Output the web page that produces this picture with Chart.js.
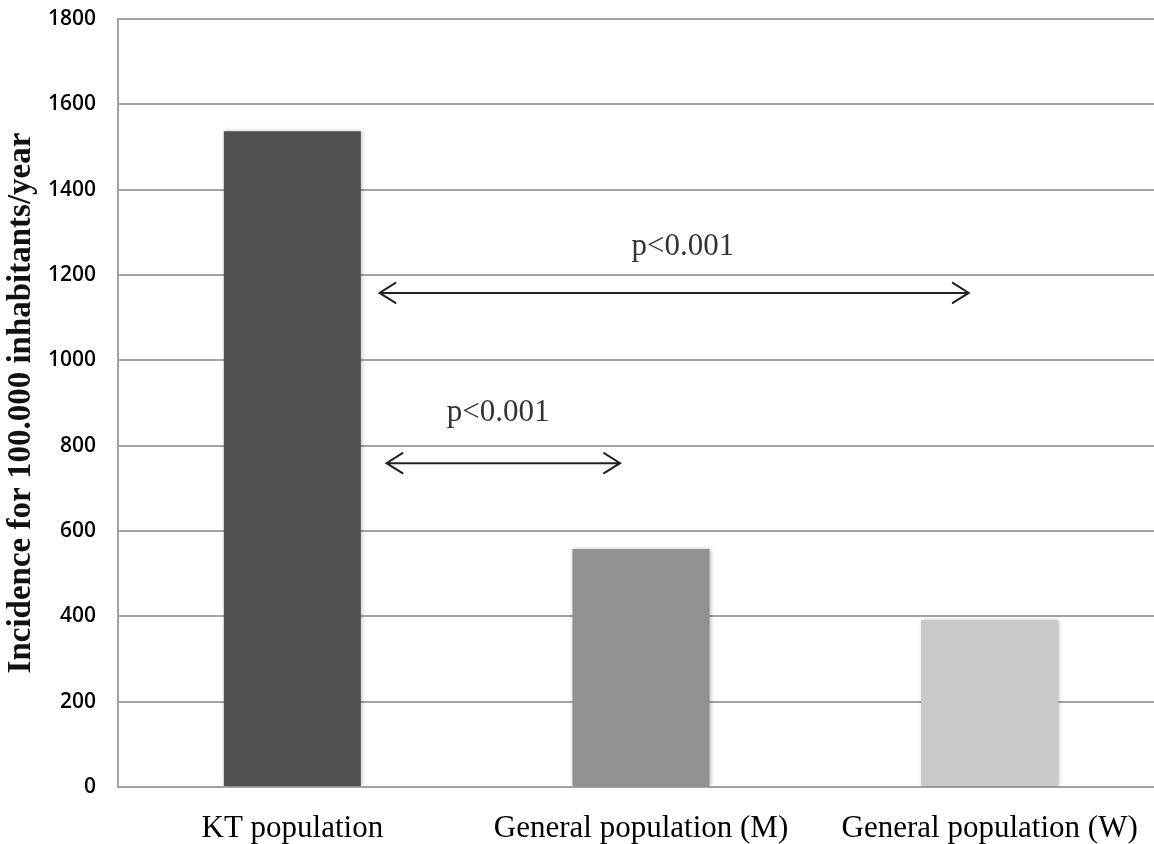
<!DOCTYPE html>
<html>
<head>
<meta charset="utf-8">
<script src="https://cdn.jsdelivr.net/npm/chart.js@4.4.1/dist/chart.umd.min.js"></script>
<style>
  html, body { margin: 0; padding: 0; background: #fff; overflow: hidden; }
  #wrap { width: 1154px; height: 844px; overflow: hidden; }
</style>
</head>
<body>
<div id="wrap"><canvas id="c" width="1164" height="844"></canvas></div>
<script>
// categories + values
const CATEGORIES = ['KT population', 'General population (M)', 'General population (W)'];
const INCIDENCE  = [1537, 558, 391];
const BAR_COLORS = ['#505050', '#919191', '#c8c8c8'];
const Y_TICKS    = [0, 200, 400, 600, 800, 1000, 1200, 1400, 1600, 1800];

// significance arrows: [x from, x to] in category units, y level, label y
const SIG_FROM   = [0.25, 0.27];
const SIG_TO     = [1.94, 0.94];
const SIG_Y      = [1158, 759];
const SIG_TEXT_X = [1.12, 0.59];
const SIG_TEXT_Y = [1265, 876];
const SIG_LABEL  = ['p<0.001', 'p<0.001'];

const GRID = '#a3a3a3';

const sigArrows = {
  id: 'sigArrows',
  afterDatasetsDraw(chart) {
    const { ctx, scales: { x, y } } = chart;
    const step = x.getPixelForValue(1) - x.getPixelForValue(0);
    const px = v => x.getPixelForValue(0) + v * step;
    ctx.save();
    ctx.strokeStyle = '#222';
    ctx.lineWidth = 2;
    ctx.lineCap = 'round';
    SIG_FROM.forEach((f, i) => {
      const x0 = px(f), x1 = px(SIG_TO[i]), yy = y.getPixelForValue(SIG_Y[i]);
      ctx.beginPath();
      ctx.moveTo(x0, yy); ctx.lineTo(x1, yy);
      ctx.moveTo(x0 + 16, yy - 10); ctx.lineTo(x0, yy); ctx.lineTo(x0 + 16, yy + 10);
      ctx.moveTo(x1 - 16, yy - 10); ctx.lineTo(x1, yy); ctx.lineTo(x1 - 16, yy + 10);
      ctx.stroke();
      ctx.fillStyle = '#333';
      ctx.font = '31px "Liberation Serif", "DejaVu Serif", serif';
      ctx.textAlign = 'center';
      ctx.textBaseline = 'middle';
      ctx.fillText(SIG_LABEL[i], px(SIG_TEXT_X[i]), y.getPixelForValue(SIG_TEXT_Y[i]));
    });
    ctx.restore();
  }
};

const barShadow = {
  id: 'barShadow',
  beforeDatasetDraw(chart) {
    const ctx = chart.ctx;
    ctx.save();
    ctx.shadowColor = 'rgba(0,0,0,0.25)';
    ctx.shadowBlur = 4;
    ctx.shadowOffsetX = 1;
    ctx.shadowOffsetY = 0;
  },
  afterDatasetDraw(chart) { chart.ctx.restore(); }
};

new Chart(document.getElementById('c'), {
  type: 'bar',
  data: {
    labels: CATEGORIES,
    datasets: [{
      data: INCIDENCE,
      backgroundColor: BAR_COLORS,
      borderWidth: 0,
      categoryPercentage: 1,
      barPercentage: 0.393
    }]
  },
  options: {
    responsive: false,
    animation: false,
    layout: { padding: { top: 19, right: 0, bottom: 0, left: 0 } },
    plugins: { legend: { display: false }, tooltip: { enabled: false } },
    scales: {
      x: {
        grid: { display: false },
        border: { color: GRID, width: 2 },
        ticks: {
          color: '#000', padding: 15,
          font: { family: '"Liberation Serif", "DejaVu Serif", serif', size: 31 }
        },
        afterFit: s => { s.height = 57; s.paddingLeft = 0; s.paddingRight = 0; }
      },
      y: {
        min: 0, max: 1800,
        afterBuildTicks: s => { s.ticks = Y_TICKS.map(v => ({ value: v })); },
        grid: { color: GRID, lineWidth: 2, drawTicks: false },
        border: { color: GRID, width: 2 },
        ticks: {
          color: '#000', padding: 22,
          callback: v => String(v),
          font: { family: '"Open Sans", "Liberation Sans", sans-serif', size: 21, weight: '600' }
        },
        title: {
          display: true,
          text: 'Incidence for 100.000 inhabitants/year',
          color: '#111',
          padding: { top: 2, bottom: 0 },
          font: { family: '"Liberation Serif", "DejaVu Serif", serif', size: 33, weight: 'bold' }
        },
        afterFit: s => { s.width = 118; s.paddingTop = 0; s.paddingBottom = 0; }
      }
    }
  },
  plugins: [barShadow, sigArrows]
});
</script>
</body>
</html>
